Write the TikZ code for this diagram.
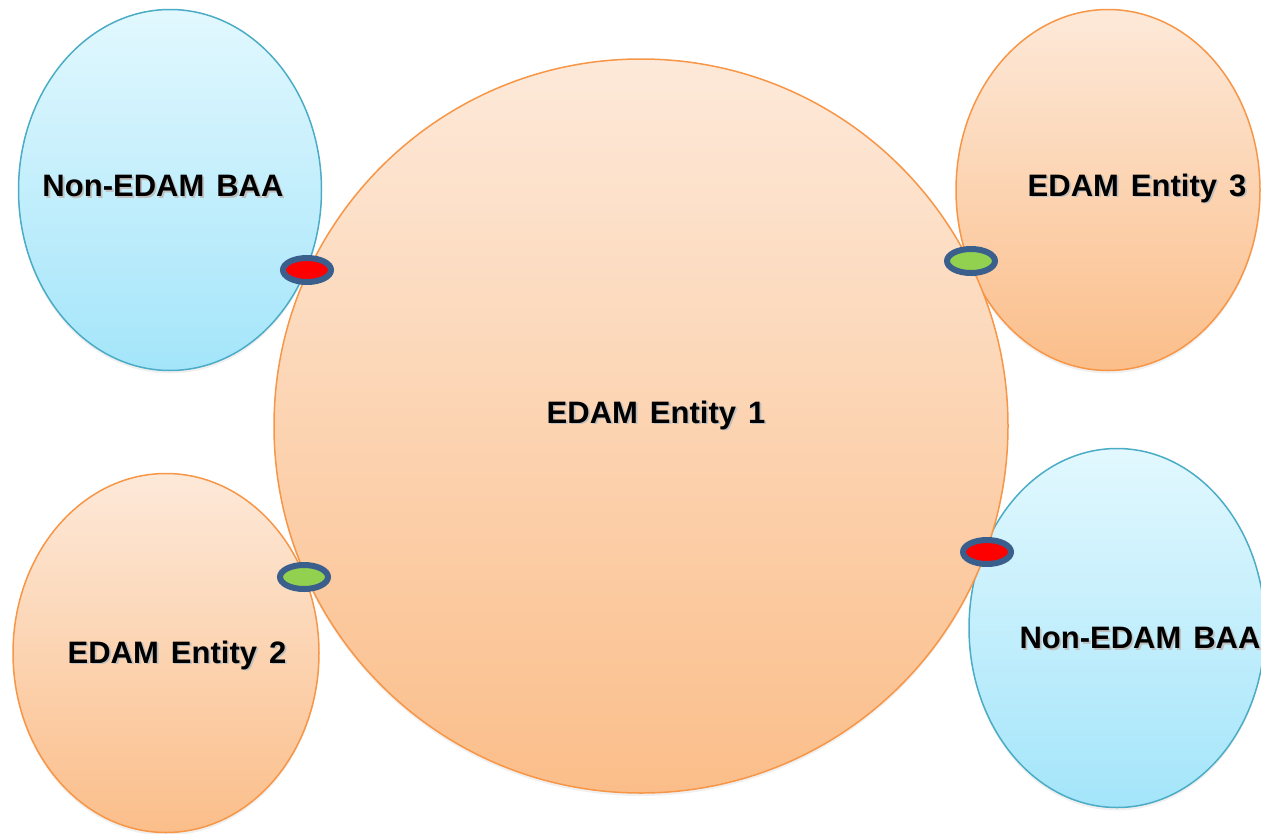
\documentclass[tikz,border=0pt]{standalone}
\usepackage{fontspec}
\setmainfont{Liberation Sans}
\usetikzlibrary{shapes.geometric,shadows}
\definecolor{edamline}{HTML}{F79646}
\definecolor{edamtop}{HTML}{FDE9D9}
\definecolor{edambot}{HTML}{FBBE8A}
\definecolor{baaline}{HTML}{4BACC6}
\definecolor{baatop}{HTML}{E2F8FE}
\definecolor{baabot}{HTML}{A4E5FA}
\definecolor{portline}{HTML}{3A5F8C}
\definecolor{portgreen}{HTML}{92D050}
\newcommand\tagfont{\fontsize{31}{36}\selectfont\bfseries\spaceskip 12pt\relax}
\newcommand\shadowed[1]{\makebox[0pt][l]{\hspace{1.8pt}\raisebox{-1.8pt}{\color{black!25}#1}}#1}
\begin{document}
\begin{tikzpicture}[
    x=1pt, y=-1pt,
    every node/.style={inner sep=0pt},
    blob/.style={ellipse, line width=1.5pt, drop shadow={shadow xshift=0pt, shadow yshift=-3pt, opacity=0.12}},
    edam/.style={blob, draw=edamline, top color=edamtop, bottom color=edambot},
    nonedam/.style={blob, draw=baaline, top color=baatop, bottom color=baabot},
    port/.style={ellipse, draw=portline, line width=6pt, minimum width=48pt, minimum height=24pt},
    portok/.style={port, fill=portgreen},
    portbad/.style={port, fill=red},
    tag/.style={font=\tagfont}
]
\useasboundingbox (0,0) rectangle (1261,833);

% outer entities
\node[nonedam, minimum width=303pt, minimum height=361pt] (baa1) at (170,190) {};
\node[edam, minimum width=306pt, minimum height=359pt] (ent2) at (166,653) {};
\node[edam, minimum width=304pt, minimum height=361pt] (ent3) at (1108,190) {};
\node[nonedam, minimum width=296pt, minimum height=359pt] (baa2) at (1117,628) {};

% central entity
\node[edam, minimum width=734pt, minimum height=734pt] (ent1) at (641,426) {};

% labels
\node[tag] (ent1-tag) at (656,416) {\shadowed{EDAM Entity 1}};
\node[tag] (baa1-tag) at (163,187) {\shadowed{Non-EDAM BAA}};
\node[tag] (ent2-tag) at (177,656) {\shadowed{EDAM Entity 2}};
\node[tag] (ent3-tag) at (1137,189) {\shadowed{EDAM Entity 3}};
\node[tag] (baa2-tag) at (1140,639) {\shadowed{Non-EDAM BAA}};

% interfaces
\node[portbad] (p-baa1) at (307,270) {};
\node[portok] (p-ent3) at (971,261) {};
\node[portok] (p-ent2) at (304,577) {};
\node[portbad] (p-baa2) at (987,552) {};
\end{tikzpicture}
\end{document}
